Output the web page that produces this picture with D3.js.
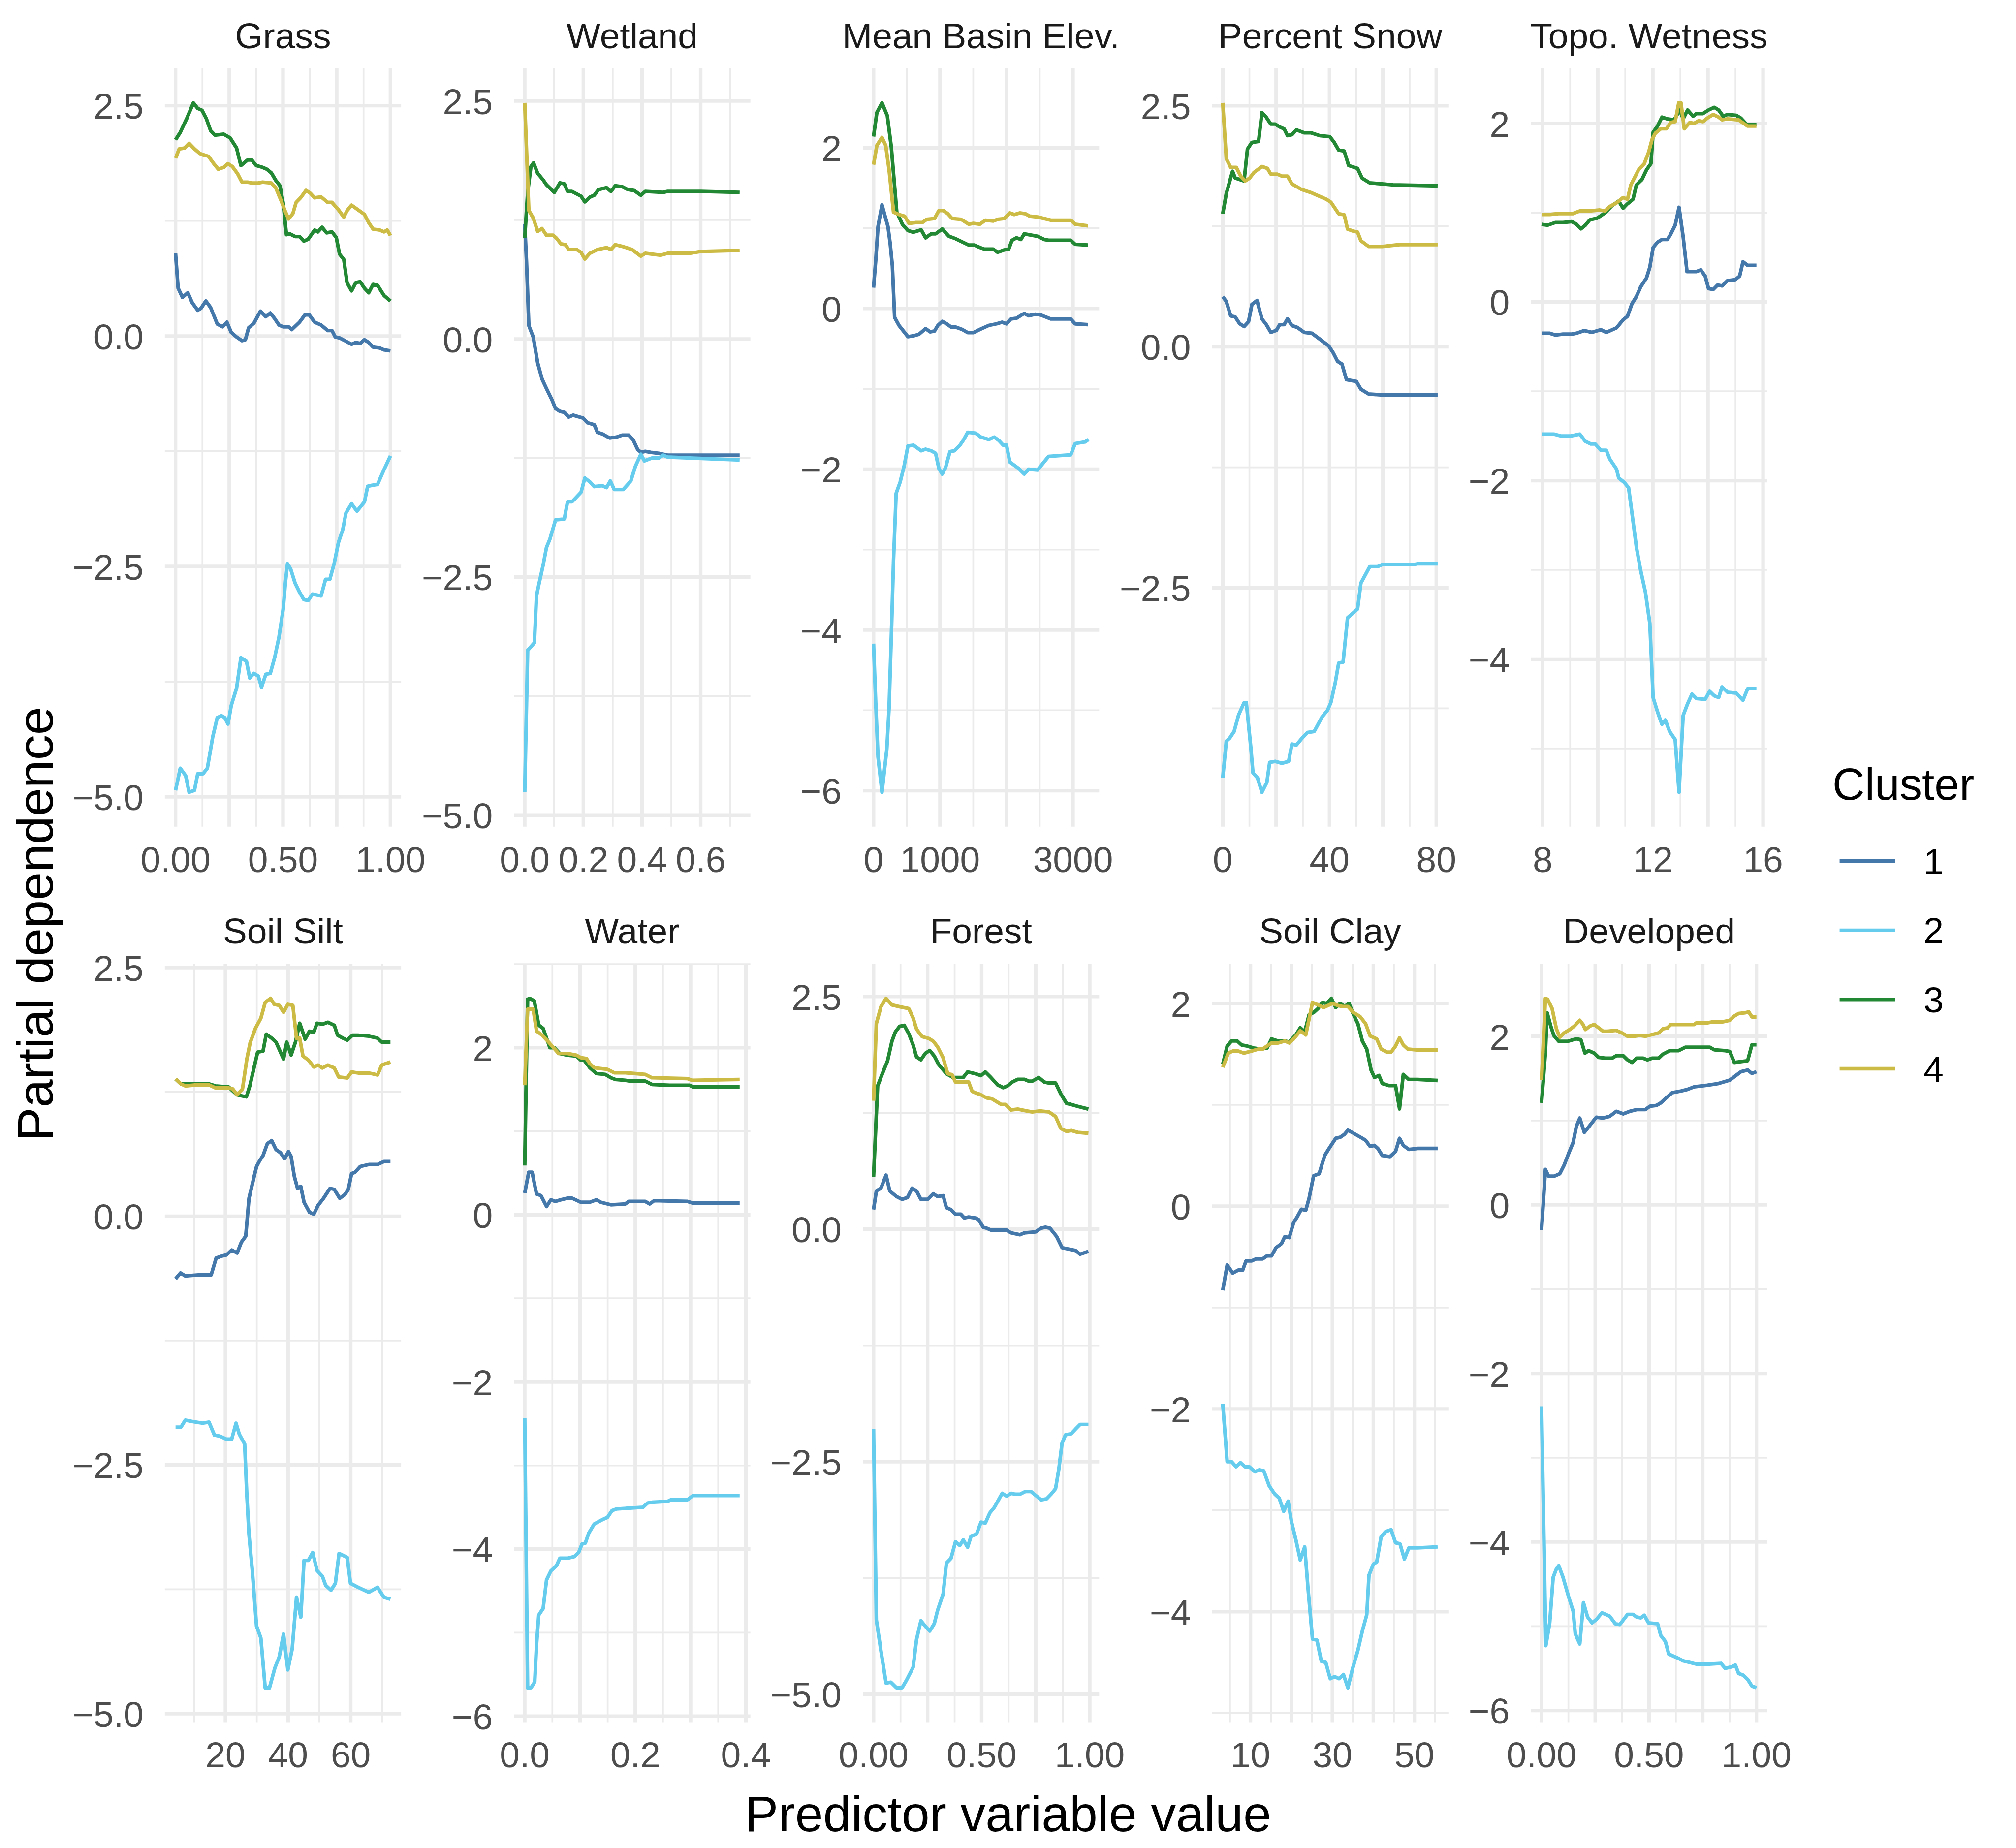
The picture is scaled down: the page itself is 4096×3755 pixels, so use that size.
<!DOCTYPE html>
<html><head><meta charset="utf-8">
<script src="https://cdn.jsdelivr.net/npm/d3@7"></script>
<style>html,body{margin:0;padding:0;background:#fff;} svg{display:block;}</style>
</head><body>
<script>
// ---------------- DATA ----------------
const clusterNames = ["1","2","3","4"];
const clusterColors = ["#4477AA","#66CCEE","#228833","#CCBB44"];
const panelTitles = ["Grass","Wetland","Mean Basin Elev.","Percent Snow","Topo. Wetness","Soil Silt","Water","Forest","Soil Clay","Developed"];

// Grass
const grass_1 = [[0,.90],[.012,.52],[.032,.42],[.057,.47],[.078,.36],[.103,.28],[.118,.30],[.141,.38],[.163,.31],[.194,.13],[.219,.10],[.239,.15],[.259,.04],[.284,-.01],[.309,-.05],[.325,-.04],[.340,.09],[.365,.14],[.395,.27],[.420,.21],[.441,.25],[.461,.19],[.481,.12],[.501,.10],[.526,.10],[.541,.07],[.577,.15],[.602,.23],[.622,.23],[.647,.15],[.677,.12],[.708,.06],[.728,.06],[.743,-.01],[.763,-.02],[.788,-.05],[.819,-.09],[.839,-.07],[.859,-.08],[.879,-.04],[.899,-.07],[.919,-.12],[.950,-.13],[.970,-.15],[1,-.16]];
const grass_2 = [[0,-4.93],[.022,-4.69],[.047,-4.77],[.063,-4.95],[.088,-4.93],[.103,-4.75],[.128,-4.75],[.148,-4.69],[.173,-4.35],[.194,-4.14],[.214,-4.12],[.229,-4.14],[.244,-4.21],[.259,-4.01],[.284,-3.82],[.304,-3.49],[.330,-3.53],[.345,-3.71],[.365,-3.66],[.385,-3.69],[.400,-3.81],[.420,-3.67],[.441,-3.66],[.461,-3.49],[.481,-3.27],[.501,-2.96],[.511,-2.68],[.521,-2.47],[.536,-2.53],[.556,-2.68],[.577,-2.78],[.597,-2.86],[.617,-2.87],[.637,-2.80],[.677,-2.82],[.698,-2.64],[.718,-2.64],[.738,-2.47],[.758,-2.24],[.778,-2.10],[.793,-1.92],[.819,-1.82],[.844,-1.90],[.879,-1.80],[.894,-1.63],[.914,-1.62],[.940,-1.61],[.970,-1.45],[1,-1.30]];
const grass_3 = [[0,2.13],[.022,2.21],[.052,2.36],[.083,2.53],[.103,2.47],[.123,2.45],[.143,2.36],[.163,2.23],[.183,2.18],[.224,2.19],[.254,2.15],[.284,2.04],[.304,1.85],[.335,1.91],[.355,1.91],[.375,1.85],[.405,1.83],[.425,1.81],[.446,1.77],[.466,1.69],[.486,1.63],[.501,1.44],[.516,1.10],[.531,1.11],[.556,1.08],[.577,1.08],[.597,1.03],[.617,1.05],[.647,1.15],[.662,1.13],[.682,1.18],[.703,1.12],[.728,1.13],[.748,1.07],[.763,.89],[.783,.83],[.798,.58],[.819,.49],[.839,.58],[.859,.59],[.879,.52],[.899,.47],[.919,.56],[.940,.55],[.970,.44],[1,.38]];
const grass_4 = [[0,1.93],[.017,2.03],[.042,2.04],[.063,2.09],[.088,2.03],[.113,1.98],[.153,1.95],[.178,1.87],[.199,1.81],[.224,1.83],[.244,1.87],[.264,1.84],[.289,1.76],[.309,1.67],[.335,1.67],[.355,1.66],[.385,1.66],[.405,1.67],[.446,1.66],[.466,1.61],[.491,1.47],[.511,1.35],[.526,1.27],[.546,1.33],[.561,1.45],[.582,1.50],[.607,1.58],[.627,1.55],[.647,1.50],[.677,1.51],[.708,1.45],[.728,1.45],[.758,1.37],[.783,1.29],[.798,1.36],[.819,1.42],[.849,1.37],[.879,1.32],[.899,1.23],[.919,1.16],[.950,1.15],[.970,1.13],[.985,1.15],[1,1.09]];

// Wetland
const wetland_1 = [[0,1.21],[.006,.82],[.014,.14],[.029,.02],[.044,-.25],[.059,-.42],[.074,-.52],[.093,-.64],[.105,-.73],[.120,-.76],[.135,-.77],[.150,-.82],[.165,-.80],[.199,-.83],[.214,-.88],[.237,-.90],[.248,-.98],[.267,-1.00],[.290,-1.04],[.313,-1.03],[.332,-1.01],[.355,-1.01],[.370,-1.06],[.385,-1.16],[.396,-1.19],[.411,-1.18],[.430,-1.19],[.457,-1.20],[.487,-1.22],[.601,-1.22],[.733,-1.22]];
const wetland_2 = [[0,-4.76],[.010,-3.27],[.033,-3.19],[.040,-2.70],[.048,-2.58],[.063,-2.37],[.074,-2.19],[.086,-2.10],[.105,-1.90],[.135,-1.89],[.146,-1.71],[.161,-1.71],[.192,-1.61],[.205,-1.46],[.222,-1.50],[.237,-1.55],[.264,-1.54],[.279,-1.56],[.292,-1.49],[.305,-1.58],[.336,-1.58],[.362,-1.49],[.377,-1.34],[.396,-1.21],[.408,-1.28],[.434,-1.25],[.457,-1.25],[.472,-1.22],[.487,-1.24],[.563,-1.25],[.733,-1.27]];
const wetland_3 = [[0,1.06],[.010,1.54],[.021,1.81],[.030,1.85],[.044,1.74],[.063,1.67],[.074,1.62],[.101,1.54],[.120,1.64],[.135,1.63],[.146,1.55],[.161,1.55],[.192,1.50],[.205,1.44],[.222,1.49],[.237,1.51],[.252,1.57],[.279,1.59],[.294,1.55],[.309,1.61],[.332,1.60],[.351,1.57],[.373,1.56],[.396,1.51],[.411,1.55],[.472,1.54],[.487,1.55],[.601,1.55],[.733,1.54]];
const wetland_4 = [[0,2.48],[.014,1.35],[.029,1.27],[.044,1.13],[.059,1.16],[.074,1.09],[.097,1.09],[.108,1.06],[.123,1.00],[.139,.99],[.150,.94],[.177,.94],[.192,.91],[.205,.84],[.222,.90],[.248,.94],[.279,.96],[.294,.94],[.309,.99],[.336,.97],[.366,.94],[.396,.87],[.411,.90],[.464,.88],[.487,.90],[.563,.90],[.601,.92],[.733,.93]];

// Mean Basin Elev.
const elev_1 = [[0,.26],[33,.60],[67,1.02],[127,1.29],[217,1.02],[250,.81],[283,.53],[317,-.11],[383,-.21],[517,-.35],[600,-.34],[683,-.32],[783,-.25],[850,-.29],[917,-.28],[967,-.21],[1033,-.16],[1100,-.19],[1167,-.23],[1233,-.23],[1333,-.26],[1417,-.30],[1500,-.30],[1600,-.26],[1733,-.21],[1850,-.19],[1933,-.17],[2000,-.19],[2067,-.13],[2150,-.12],[2267,-.06],[2333,-.09],[2433,-.07],[2517,-.08],[2667,-.13],[2967,-.13],[3033,-.19],[3227,-.20]];
const elev_2 = [[0,-4.17],[33,-4.91],[67,-5.58],[127,-6.02],[200,-5.48],[233,-4.98],[273,-3.92],[300,-3.14],[340,-2.30],[400,-2.16],[460,-1.96],[517,-1.71],[600,-1.70],[717,-1.77],[783,-1.75],[867,-1.77],[933,-1.80],[983,-1.99],[1033,-2.06],[1083,-1.98],[1150,-1.78],[1217,-1.77],[1300,-1.70],[1350,-1.64],[1417,-1.54],[1533,-1.55],[1617,-1.60],[1733,-1.63],[1817,-1.60],[1883,-1.64],[1950,-1.70],[2000,-1.70],[2050,-1.91],[2183,-1.99],[2267,-2.06],[2333,-2.00],[2467,-2.01],[2633,-1.84],[2967,-1.82],[3033,-1.68],[3183,-1.66],[3233,-1.63]];
const elev_3 = [[0,2.14],[50,2.44],[127,2.56],[207,2.40],[267,2.01],[317,1.52],[350,1.20],[433,1.05],[517,.97],[600,.95],[717,.98],[783,.88],[867,.93],[933,.93],[1033,.99],[1133,.90],[1233,.87],[1433,.79],[1517,.79],[1600,.76],[1667,.74],[1800,.74],[1867,.70],[1967,.73],[2033,.74],[2083,.85],[2150,.88],[2217,.86],[2267,.93],[2467,.90],[2567,.86],[2633,.85],[2967,.85],[3033,.80],[3227,.79]];
const elev_4 = [[0,1.79],[50,2.03],[127,2.13],[183,2.03],[233,1.73],[300,1.20],[383,1.17],[467,1.15],[533,1.06],[633,1.07],[733,1.07],[800,1.11],[917,1.12],[983,1.22],[1050,1.22],[1117,1.18],[1183,1.12],[1317,1.11],[1433,1.05],[1500,1.06],[1600,1.05],[1683,1.10],[1800,1.09],[1867,1.11],[1967,1.12],[2050,1.19],[2117,1.17],[2200,1.19],[2283,1.18],[2350,1.15],[2467,1.14],[2567,1.12],[2667,1.10],[2967,1.10],[3033,1.05],[3227,1.03]];

// Percent Snow
const snow_1 = [[0,.52],[1.33,.47],[3,.32],[4.67,.31],[6.33,.24],[8,.21],[9.67,.26],[10.92,.44],[12.83,.48],[14.67,.29],[16.33,.23],[18,.15],[20.08,.17],[21.33,.23],[23,.23],[24.25,.29],[25.92,.22],[28,.20],[30.5,.15],[33.42,.14],[36.33,.08],[39.67,.01],[41.33,-.06],[43,-.15],[44.67,-.18],[46.33,-.34],[50.08,-.36],[51.75,-.44],[54.67,-.49],[59.67,-.50],[80.5,-.50]];
const snow_2 = [[0,-4.47],[1.33,-4.09],[2.58,-4.06],[4.25,-3.99],[5.92,-3.82],[8,-3.69],[8.83,-3.69],[10.5,-4.15],[11.33,-4.42],[13,-4.47],[14.67,-4.62],[16.5,-4.52],[17.58,-4.31],[19.67,-4.30],[22.17,-4.32],[24.67,-4.30],[25.92,-4.12],[27.58,-4.13],[29.67,-4.06],[31.75,-4.00],[34.25,-3.99],[37.17,-3.84],[39.25,-3.77],[40.5,-3.69],[42.17,-3.48],[43.42,-3.28],[45.08,-3.27],[46.75,-2.81],[49.25,-2.75],[50.5,-2.72],[51.75,-2.45],[55.08,-2.28],[58,-2.28],[59.67,-2.26],[71.33,-2.26],[73,-2.25],[80.5,-2.25]];
const snow_3 = [[0,1.38],[1.33,1.59],[3.67,1.82],[4.67,1.75],[8,1.72],[9.25,2.05],[10.92,2.12],[13.42,2.13],[14.67,2.43],[16.33,2.38],[18,2.31],[19.67,2.31],[21.33,2.28],[23,2.26],[24.25,2.19],[25.92,2.20],[27.58,2.25],[30.5,2.22],[33,2.22],[36.33,2.19],[40.08,2.18],[41.75,2.12],[43.42,2.04],[45.5,2.03],[47.17,1.88],[50.5,1.85],[52.17,1.75],[55.08,1.70],[59.67,1.69],[63.83,1.68],[80.5,1.67]];
const snow_4 = [[0,2.53],[1.33,1.95],[3,1.86],[5.08,1.86],[6.75,1.77],[8.42,1.72],[10.08,1.75],[11.75,1.81],[14.67,1.87],[16.75,1.85],[18,1.79],[20.5,1.79],[22.17,1.77],[24.25,1.77],[25.92,1.69],[29.67,1.63],[33,1.60],[36.33,1.56],[38.83,1.53],[40.5,1.50],[43.42,1.38],[45.5,1.37],[46.75,1.22],[48.83,1.20],[50.5,1.19],[51.75,1.10],[54.67,1.04],[59.67,1.04],[66.33,1.06],[80.5,1.06]];

// Topo. Wetness
const topo_1 = [[7.96,-.35],[8.26,-.35],[8.46,-.37],[8.74,-.36],[9.06,-.36],[9.23,-.35],[9.51,-.32],[9.79,-.34],[10.11,-.31],[10.31,-.34],[10.68,-.29],[10.92,-.20],[11.08,-.16],[11.24,-.02],[11.40,.06],[11.56,.17],[11.77,.27],[11.89,.39],[12.01,.61],[12.17,.67],[12.33,.70],[12.53,.70],[12.65,.76],[12.81,.86],[12.95,1.06],[13.10,.73],[13.24,.34],[13.58,.34],[13.74,.36],[13.90,.29],[14.02,.15],[14.19,.14],[14.35,.19],[14.51,.18],[14.71,.24],[14.99,.25],[15.15,.29],[15.27,.45],[15.44,.41],[15.76,.41]];
const topo_2 = [[7.96,-1.48],[8.42,-1.48],[8.66,-1.50],[9.02,-1.50],[9.35,-1.48],[9.55,-1.56],[9.75,-1.59],[9.91,-1.59],[10.11,-1.66],[10.31,-1.66],[10.44,-1.76],[10.68,-1.87],[10.76,-1.97],[10.96,-2.02],[11.12,-2.08],[11.24,-2.36],[11.40,-2.74],[11.56,-3.01],[11.73,-3.25],[11.89,-3.60],[12.01,-4.43],[12.17,-4.59],[12.33,-4.73],[12.45,-4.68],[12.61,-4.81],[12.81,-4.90],[12.95,-5.49],[13.10,-4.63],[13.26,-4.50],[13.42,-4.39],[13.58,-4.44],[13.90,-4.45],[14.06,-4.36],[14.23,-4.41],[14.39,-4.43],[14.51,-4.31],[14.71,-4.37],[15.03,-4.38],[15.27,-4.46],[15.44,-4.33],[15.76,-4.33]];
const topo_3 = [[7.96,.87],[8.18,.86],[8.46,.89],[8.74,.89],[9.06,.90],[9.23,.87],[9.39,.82],[9.55,.86],[9.71,.92],[9.99,.94],[10.27,1.00],[10.52,1.08],[10.76,1.13],[10.92,1.05],[11.08,1.10],[11.28,1.15],[11.40,1.31],[11.60,1.37],[11.77,1.48],[11.93,1.55],[12.01,1.90],[12.17,1.97],[12.33,2.07],[12.53,2.05],[12.77,2.04],[12.98,2.15],[13.10,2.05],[13.26,2.15],[13.46,2.08],[13.58,2.11],[13.82,2.11],[14.02,2.15],[14.23,2.18],[14.39,2.15],[14.55,2.08],[14.71,2.10],[15.03,2.09],[15.19,2.06],[15.40,1.99],[15.76,1.99]];
const topo_4 = [[7.96,.98],[8.26,.98],[8.58,.99],[9.10,.99],[9.35,1.02],[9.71,1.02],[10.07,1.03],[10.27,1.02],[10.44,1.07],[10.68,1.11],[10.92,1.17],[11.08,1.15],[11.20,1.31],[11.48,1.48],[11.69,1.55],[11.85,1.68],[11.97,1.82],[12.09,1.89],[12.29,1.94],[12.49,1.94],[12.65,2.01],[12.81,2.02],[12.94,2.23],[13.02,2.23],[13.14,1.94],[13.34,2.01],[13.50,2.00],[13.66,2.03],[13.82,2.02],[13.98,2.06],[14.19,2.10],[14.39,2.07],[14.51,2.04],[14.71,2.05],[15.11,2.04],[15.44,1.97],[15.76,1.97]];

// Soil Silt
const silt_1 = [[4.07,-.63],[5.66,-.57],[7.17,-.60],[11.31,-.59],[15.45,-.59],[17.03,-.42],[18.90,-.40],[20.28,-.39],[22.0,-.34],[23.72,-.37],[25.10,-.26],[26.48,-.20],[27.52,.18],[28.41,.30],[29.93,.50],[30.97,.56],[32.0,.61],[33.38,.73],[34.76,.76],[36.14,.67],[37.52,.64],[38.90,.58],[40.14,.65],[40.97,.60],[42.0,.40],[43.03,.28],[44.07,.30],[45.10,.14],[46.83,.04],[48.21,.02],[49.59,.11],[51.31,.18],[53.38,.28],[54.76,.27],[56.48,.18],[58.21,.22],[59.24,.27],[60.28,.43],[61.31,.44],[63.03,.50],[65.79,.52],[68.55,.52],[70.62,.55],[72.69,.55]];
const silt_2 = [[4.07,-2.12],[5.79,-2.12],[7.17,-2.05],[10.62,-2.07],[12.69,-2.08],[14.76,-2.07],[16.48,-2.20],[18.21,-2.21],[20.28,-2.24],[22.0,-2.24],[23.38,-2.08],[24.41,-2.19],[26.14,-2.29],[26.83,-2.80],[27.52,-3.20],[28.55,-3.55],[29.93,-4.12],[31.31,-4.24],[32.69,-4.74],[34.07,-4.74],[35.79,-4.54],[37.17,-4.43],[38.55,-4.20],[39.93,-4.56],[41.31,-4.35],[42.69,-3.83],[44.07,-4.03],[45.10,-3.46],[46.48,-3.46],[47.86,-3.38],[49.24,-3.56],[50.97,-3.62],[52.0,-3.71],[53.72,-3.76],[55.10,-3.69],[56.28,-3.39],[58.90,-3.43],[59.93,-3.69],[62.34,-3.73],[65.79,-3.78],[68.55,-3.73],[70.62,-3.83],[72.69,-3.85]];
const silt_3 = [[4.07,1.38],[5.79,1.33],[10.62,1.33],[14.76,1.33],[16.83,1.31],[20.97,1.30],[23.72,1.22],[26.69,1.20],[27.86,1.32],[30.28,1.65],[32.0,1.66],[33.03,1.83],[34.76,1.79],[36.14,1.75],[38.55,1.58],[39.59,1.75],[40.97,1.62],[42.34,1.75],[43.72,1.94],[45.45,1.78],[46.83,1.86],[48.21,1.85],[49.24,1.94],[50.97,1.93],[52.69,1.95],[54.76,1.92],[55.79,1.82],[57.52,1.79],[58.90,1.77],[60.62,1.82],[62.34,1.82],[65.79,1.81],[68.55,1.79],[69.93,1.75],[72.69,1.75]];
const silt_4 = [[4.07,1.38],[5.79,1.33],[7.17,1.31],[10.62,1.32],[14.76,1.32],[16.83,1.29],[20.97,1.29],[22.34,1.28],[23.72,1.22],[25.45,1.28],[26.83,1.58],[27.86,1.74],[29.59,1.89],[31.31,1.99],[32.69,2.15],[34.41,2.19],[35.59,2.13],[37.17,2.12],[38.55,2.05],[39.93,2.13],[41.52,2.12],[42.69,1.79],[43.72,1.79],[44.76,1.61],[46.48,1.57],[48.21,1.50],[49.59,1.52],[50.97,1.49],[52.69,1.52],[54.76,1.49],[56.14,1.40],[58.90,1.39],[60.28,1.45],[62.34,1.44],[65.79,1.44],[68.55,1.42],[69.93,1.52],[72.69,1.55]];

// Water
const water_1 = [[0,.26],[.0072,.51],[.0133,.51],[.0213,.25],[.0293,.23],[.0394,.10],[.0474,.18],[.0554,.16],[.0655,.18],[.0775,.20],[.0855,.20],[.1016,.15],[.1177,.15],[.1297,.18],[.1378,.15],[.1558,.12],[.1819,.13],[.1880,.16],[.2181,.16],[.2261,.13],[.2341,.17],[.2944,.16],[.3044,.14],[.3888,.14]];
const water_2 = [[0,-2.43],[.0052,-5.66],[.0112,-5.66],[.0181,-5.59],[.0213,-5.15],[.0253,-4.79],[.0333,-4.71],[.0394,-4.37],[.0474,-4.26],[.0574,-4.20],[.0635,-4.11],[.0775,-4.11],[.0896,-4.09],[.0976,-4.04],[.1036,-3.94],[.1096,-3.93],[.1157,-3.81],[.1257,-3.70],[.1398,-3.65],[.1498,-3.62],[.1578,-3.54],[.1659,-3.52],[.2141,-3.50],[.2221,-3.45],[.2301,-3.44],[.2582,-3.43],[.2643,-3.41],[.2944,-3.41],[.3044,-3.36],[.3888,-3.36]];
const water_3 = [[0,.59],[.0052,2.58],[.0092,2.59],[.0173,2.56],[.0253,2.27],[.0333,2.23],[.0454,2.00],[.0534,2.00],[.0635,1.93],[.0775,1.91],[.0936,1.90],[.1016,1.85],[.1076,1.85],[.1177,1.76],[.1297,1.69],[.1458,1.68],[.1558,1.64],[.1639,1.62],[.1819,1.61],[.1900,1.60],[.2181,1.60],[.2301,1.56],[.2622,1.55],[.2984,1.55],[.3044,1.53],[.3888,1.53]];
const water_4 = [[0,1.55],[.0052,2.46],[.0153,2.46],[.0213,2.20],[.0313,2.15],[.0454,2.05],[.0614,1.93],[.0775,1.93],[.0936,1.91],[.1016,1.88],[.1116,1.87],[.1177,1.81],[.1257,1.76],[.1498,1.74],[.1618,1.70],[.1819,1.70],[.2181,1.68],[.2301,1.64],[.2944,1.63],[.3024,1.61],[.3888,1.62]];

// Forest
const forest_1 = [[0,.21],[.013,.41],[.034,.44],[.058,.58],[.075,.41],[.106,.35],[.132,.32],[.157,.34],[.178,.44],[.199,.41],[.219,.32],[.250,.32],[.276,.38],[.296,.35],[.322,.36],[.337,.23],[.358,.21],[.379,.16],[.404,.16],[.420,.12],[.440,.13],[.471,.12],[.487,.10],[.507,.02],[.523,.01],[.543,-.01],[.579,-.01],[.615,-.01],[.636,-.04],[.677,-.06],[.698,-.04],[.749,-.03],[.775,.01],[.795,.02],[.816,.01],[.847,-.08],[.872,-.20],[.914,-.22],[.934,-.23],[.955,-.27],[.994,-.24]];
const forest_2 = [[0,-2.15],[.013,-4.20],[.034,-4.53],[.058,-4.88],[.080,-4.87],[.106,-4.93],[.132,-4.93],[.152,-4.85],[.183,-4.71],[.199,-4.41],[.219,-4.21],[.240,-4.27],[.260,-4.32],[.281,-4.24],[.296,-4.10],[.322,-3.92],[.337,-3.59],[.358,-3.54],[.379,-3.36],[.399,-3.40],[.415,-3.34],[.435,-3.42],[.451,-3.30],[.476,-3.28],[.497,-3.15],[.517,-3.16],[.538,-3.05],[.559,-2.99],[.595,-2.84],[.615,-2.87],[.636,-2.84],[.656,-2.85],[.677,-2.85],[.703,-2.82],[.728,-2.82],[.754,-2.87],[.775,-2.91],[.800,-2.90],[.821,-2.85],[.842,-2.79],[.857,-2.58],[.872,-2.30],[.888,-2.21],[.914,-2.20],[.934,-2.15],[.955,-2.10],[.994,-2.10]];
const forest_3 = [[0,.56],[.019,1.54],[.039,1.66],[.065,1.81],[.085,2.02],[.101,2.12],[.121,2.18],[.142,2.19],[.163,2.10],[.183,1.98],[.199,1.85],[.219,1.82],[.240,1.89],[.260,1.92],[.281,1.86],[.301,1.77],[.337,1.67],[.368,1.63],[.399,1.63],[.415,1.63],[.435,1.69],[.471,1.67],[.497,1.65],[.517,1.69],[.543,1.63],[.574,1.55],[.600,1.52],[.620,1.54],[.641,1.58],[.667,1.61],[.698,1.61],[.718,1.59],[.734,1.59],[.764,1.63],[.790,1.58],[.811,1.57],[.842,1.57],[.867,1.45],[.893,1.35],[.914,1.34],[.944,1.32],[.994,1.29]];
const forest_4 = [[0,1.38],[.013,2.21],[.034,2.39],[.058,2.48],[.085,2.41],[.121,2.39],[.163,2.37],[.183,2.27],[.199,2.15],[.224,2.07],[.255,2.05],[.276,2.02],[.296,1.96],[.322,1.84],[.343,1.67],[.363,1.66],[.379,1.58],[.415,1.58],[.440,1.58],[.456,1.48],[.476,1.46],[.492,1.45],[.523,1.41],[.548,1.40],[.590,1.34],[.610,1.34],[.636,1.28],[.667,1.29],[.708,1.27],[.734,1.26],[.770,1.27],[.811,1.26],[.842,1.21],[.867,1.08],[.893,1.05],[.914,1.06],[.944,1.04],[.994,1.03]];

// Soil Clay
const clay_1 = [[3.24,-.83],[4.32,-.58],[5.68,-.66],[7.03,-.63],[8.11,-.63],[8.92,-.54],[10.27,-.54],[11.35,-.52],[12.97,-.52],[14.05,-.49],[15.14,-.49],[16.22,-.41],[17.57,-.37],[18.38,-.30],[19.46,-.31],[20.54,-.16],[21.35,-.11],[22.43,-.03],[23.51,-.04],[24.32,.08],[25.41,.30],[26.76,.32],[28.11,.50],[29.19,.57],[30.81,.67],[31.89,.68],[32.97,.71],[33.78,.75],[35.14,.72],[37.30,.67],[38.11,.65],[39.19,.59],[40.27,.60],[41.08,.57],[42.16,.50],[44.05,.49],[45.41,.54],[46.38,.67],[47.30,.60],[48.65,.56],[50.81,.57],[55.68,.57]];
const clay_2 = [[3.24,-1.95],[4.32,-2.52],[5.41,-2.52],[6.49,-2.57],[7.57,-2.53],[8.65,-2.57],[9.73,-2.57],[11.08,-2.62],[12.16,-2.60],[13.24,-2.61],[14.59,-2.76],[15.95,-2.84],[17.03,-2.88],[18.11,-3.01],[19.19,-2.91],[20.0,-3.11],[21.08,-3.29],[22.16,-3.49],[23.24,-3.36],[24.05,-3.77],[25.14,-4.27],[26.22,-4.28],[27.30,-4.49],[28.38,-4.50],[29.46,-4.66],[30.54,-4.64],[31.62,-4.66],[32.70,-4.62],[33.78,-4.75],[34.86,-4.57],[36.22,-4.38],[37.30,-4.19],[38.38,-4.03],[38.92,-3.64],[40.0,-3.53],[40.81,-3.51],[41.89,-3.26],[42.97,-3.21],[44.32,-3.19],[45.41,-3.32],[46.49,-3.33],[47.57,-3.48],[48.65,-3.37],[50.81,-3.37],[55.68,-3.36]];
const clay_3 = [[3.24,1.40],[4.32,1.58],[5.41,1.63],[6.76,1.63],[7.84,1.59],[9.19,1.58],[10.81,1.56],[12.43,1.55],[14.05,1.56],[15.14,1.65],[16.76,1.63],[18.38,1.63],[19.46,1.62],[21.08,1.69],[22.16,1.76],[23.24,1.72],[24.32,1.89],[25.41,1.91],[26.49,1.95],[27.57,2.01],[28.65,2.00],[29.73,2.05],[30.81,1.96],[31.89,2.00],[32.97,1.97],[34.05,2.00],[35.14,1.89],[36.22,1.80],[37.30,1.63],[38.38,1.55],[39.46,1.34],[40.27,1.27],[41.35,1.29],[42.16,1.21],[43.78,1.19],[45.41,1.19],[46.38,.96],[47.30,1.30],[48.65,1.25],[50.81,1.25],[55.68,1.24]];
const clay_4 = [[3.24,1.37],[4.59,1.51],[5.68,1.53],[7.03,1.53],[8.38,1.51],[10.27,1.53],[11.89,1.55],[12.97,1.55],[15.14,1.61],[16.76,1.61],[18.38,1.63],[19.46,1.61],[20.54,1.65],[22.16,1.73],[23.51,1.69],[25.14,2.01],[26.22,1.99],[27.84,1.96],[28.92,1.98],[30.0,2.00],[31.35,1.98],[32.43,1.97],[33.78,1.97],[35.14,1.91],[36.76,1.87],[38.11,1.80],[39.19,1.68],[40.81,1.65],[41.89,1.55],[43.24,1.52],[44.32,1.52],[45.41,1.58],[46.38,1.66],[47.30,1.59],[48.38,1.55],[50.81,1.54],[55.68,1.54]];

// Developed
const dev_1 = [[0,-.30],[.018,.42],[.033,.34],[.059,.34],[.085,.37],[.105,.47],[.126,.61],[.147,.74],[.162,.93],[.178,1.03],[.199,.86],[.224,.94],[.255,1.04],[.286,1.03],[.317,1.05],[.348,1.11],[.380,1.08],[.411,1.11],[.442,1.13],[.483,1.13],[.504,1.17],[.535,1.18],[.555,1.21],[.576,1.26],[.607,1.33],[.648,1.35],[.679,1.37],[.710,1.40],[.772,1.42],[.824,1.44],[.876,1.48],[.907,1.54],[.928,1.58],[.959,1.60],[.979,1.56],[1,1.58]];
const dev_2 = [[0,-2.39],[.007,-3.37],[.020,-5.23],[.038,-4.96],[.054,-4.42],[.069,-4.32],[.080,-4.28],[.100,-4.42],[.126,-4.65],[.147,-4.82],[.157,-5.09],[.178,-5.21],[.195,-4.72],[.214,-4.89],[.235,-4.96],[.255,-4.92],[.281,-4.84],[.317,-4.88],[.343,-4.97],[.364,-4.98],[.400,-4.86],[.426,-4.86],[.442,-4.89],[.462,-4.90],[.478,-4.87],[.498,-4.96],[.540,-4.97],[.555,-5.11],[.576,-5.18],[.592,-5.33],[.628,-5.37],[.659,-5.41],[.690,-5.43],[.721,-5.45],[.772,-5.45],[.835,-5.44],[.855,-5.50],[.886,-5.48],[.902,-5.46],[.917,-5.56],[.938,-5.58],[.959,-5.63],[.979,-5.71],[1,-5.73]];
const dev_3 = [[0,1.21],[.018,1.81],[.026,2.28],[.043,2.12],[.057,2.01],[.080,1.94],[.121,1.94],[.162,1.97],[.183,1.96],[.202,1.80],[.219,1.83],[.245,1.80],[.266,1.75],[.297,1.74],[.328,1.74],[.348,1.77],[.380,1.77],[.400,1.72],[.421,1.69],[.442,1.74],[.473,1.74],[.493,1.72],[.514,1.74],[.545,1.74],[.566,1.79],[.597,1.83],[.638,1.83],[.669,1.87],[.721,1.87],[.783,1.87],[.804,1.84],[.855,1.83],[.876,1.82],[.897,1.69],[.928,1.70],[.959,1.71],[.979,1.90],[1,1.90]];
const dev_4 = [[0,1.48],[.018,2.45],[.028,2.44],[.049,2.33],[.069,2.09],[.085,1.99],[.105,2.04],[.131,2.08],[.152,2.12],[.178,2.19],[.193,2.14],[.204,2.08],[.224,2.12],[.245,2.14],[.266,2.10],[.286,2.06],[.307,2.06],[.348,2.07],[.374,2.04],[.400,2.00],[.431,2.00],[.457,2.01],[.483,2.00],[.514,2.02],[.545,2.04],[.566,2.09],[.586,2.10],[.602,2.14],[.669,2.14],[.710,2.14],[.721,2.16],[.772,2.16],[.793,2.17],[.840,2.17],[.876,2.19],[.897,2.24],[.917,2.27],[.948,2.28],[.964,2.29],[.979,2.23],[1,2.23]];

// Tick breaks and labels
const xBreaks_unit = [0,0.25,0.5,0.75,1];        const xLabels_unit = ["0.00","","0.50","","1.00"];
const xBreaks_wetland = [0,0.2,0.4,0.6];          const xLabels_wetland = ["0.0","0.2","0.4","0.6"];
const xBreaks_elev = [0,1000,2000,3000];          const xLabels_elev = ["0","1000","","3000"];
const xBreaks_snow = [0,20,40,60,80];             const xLabels_snow = ["0","","40","","80"];
const xBreaks_topo = [8,10,12,14,16];             const xLabels_topo = ["8","","12","","16"];
const xBreaks_silt = [20,40,60];                  const xLabels_silt = ["20","40","60"];
const xBreaks_water = [0,0.1,0.2,0.3,0.4];        const xLabels_water = ["0.0","","0.2","","0.4"];
const xBreaks_clay = [10,20,30,40,50];            const xLabels_clay = ["10","","30","","50"];

const yBreaks_half = [2.5,0,-2.5,-5];             const yLabels_half = ["2.5","0.0","\u22122.5","\u22125.0"];
const yBreaks_snow = [2.5,0,-2.5];                const yLabels_snow = ["2.5","0.0","\u22122.5"];
const yBreaks_int4 = [2,0,-2,-4];                 const yLabels_int4 = ["2","0","\u22122","\u22124"];
const yBreaks_int6 = [2,0,-2,-4,-6];              const yLabels_int6 = ["2","0","\u22122","\u22124","\u22126"];

const axisTitleX = "Predictor variable value";
const axisTitleY = "Partial dependence";
const legendTitle = "Cluster";

// ---------------- TABLE ----------------
const panels = [
  {series:[grass_1,grass_2,grass_3,grass_4], xb:xBreaks_unit, xl:xLabels_unit, yb:yBreaks_half, yl:yLabels_half},
  {series:[wetland_1,wetland_2,wetland_3,wetland_4], xb:xBreaks_wetland, xl:xLabels_wetland, yb:yBreaks_half, yl:yLabels_half},
  {series:[elev_1,elev_2,elev_3,elev_4], xb:xBreaks_elev, xl:xLabels_elev, yb:yBreaks_int6, yl:yLabels_int6},
  {series:[snow_1,snow_2,snow_3,snow_4], xb:xBreaks_snow, xl:xLabels_snow, yb:yBreaks_snow, yl:yLabels_snow},
  {series:[topo_1,topo_2,topo_3,topo_4], xb:xBreaks_topo, xl:xLabels_topo, yb:yBreaks_int4, yl:yLabels_int4},
  {series:[silt_1,silt_2,silt_3,silt_4], xb:xBreaks_silt, xl:xLabels_silt, yb:yBreaks_half, yl:yLabels_half},
  {series:[water_1,water_2,water_3,water_4], xb:xBreaks_water, xl:xLabels_water, yb:yBreaks_int6, yl:yLabels_int6},
  {series:[forest_1,forest_2,forest_3,forest_4], xb:xBreaks_unit, xl:xLabels_unit, yb:yBreaks_half, yl:yLabels_half},
  {series:[clay_1,clay_2,clay_3,clay_4], xb:xBreaks_clay, xl:xLabels_clay, yb:yBreaks_int4, yl:yLabels_int4},
  {series:[dev_1,dev_2,dev_3,dev_4], xb:xBreaks_unit, xl:xLabels_unit, yb:yBreaks_int6, yl:yLabels_int6}
];

// ---------------- LAYOUT (reference pixel space, scaled) ----------------
const REF_W = 5040, REF_H = 4620;
const S = 4096 / REF_W;
const FONT = "'Liberation Sans', Arial, Helvetica, sans-serif";
const colLeft = [412, 1285, 2157, 3030, 3827];
const panelW = 591;
const rowTop = [171, 2410];
const panelH = 1896;
const smallFont = 90, titleFont = 126, legTitleFont = 112;

const svg = d3.select("body").append("svg")
  .attr("width", 4096).attr("height", 3755)
  .style("background", "#fff");
const root = svg.append("g").attr("transform", `scale(${S})`);
root.append("rect").attr("width", REF_W).attr("height", REF_H).attr("fill", "#fff");

function minorBreaks(b, lo, hi) {
  const step = b[1] - b[0];
  const ext = [b[0] - step, ...b, b[b.length - 1] + step];
  const out = [];
  for (let i = 0; i < ext.length - 1; i++) {
    const m = (ext[i] + ext[i + 1]) / 2;
    if (m >= lo && m <= hi) out.push(m);
  }
  return out;
}

const line = d3.line().curve(d3.curveLinear);

panels.forEach((p, i) => {
  const col = i % 5, row = Math.floor(i / 5);
  const x0 = colLeft[col], y0 = rowTop[row];
  const all = p.series.flat();
  const xe = d3.extent(all, d => d[0]);
  const ye = d3.extent(all, d => d[1]);
  const xr = xe[1] - xe[0], yr = ye[1] - ye[0];
  const xDom = [xe[0] - 0.05 * xr, xe[1] + 0.05 * xr];
  const yDom = [ye[0] - 0.05 * yr, ye[1] + 0.05 * yr];
  const x = d3.scaleLinear().domain(xDom).range([x0, x0 + panelW]);
  const y = d3.scaleLinear().domain(yDom).range([y0 + panelH, y0]);

  const g = root.append("g").attr("class", "panel");
  const inX = v => v >= xDom[0] && v <= xDom[1];
  const inY = v => v >= yDom[0] && v <= yDom[1];

  // minor grid
  const xMin = minorBreaks(p.xb, xDom[0], xDom[1]);
  const yMin = minorBreaks(p.yb, yDom[0], yDom[1]);
  g.selectAll(".xminor").data(xMin).join("line")
    .attr("x1", d => x(d)).attr("x2", d => x(d)).attr("y1", y0).attr("y2", y0 + panelH)
    .attr("stroke", "#EBEBEB").attr("stroke-width", 4.5);
  g.selectAll(".yminor").data(yMin).join("line")
    .attr("y1", d => y(d)).attr("y2", d => y(d)).attr("x1", x0).attr("x2", x0 + panelW)
    .attr("stroke", "#EBEBEB").attr("stroke-width", 4.5);
  // major grid
  const xMaj = p.xb.map((v, k) => ({v, l: p.xl[k]})).filter(d => inX(d.v));
  const yMaj = p.yb.map((v, k) => ({v, l: p.yl[k]})).filter(d => inY(d.v));
  g.selectAll(".xmajor").data(xMaj).join("line")
    .attr("x1", d => x(d.v)).attr("x2", d => x(d.v)).attr("y1", y0).attr("y2", y0 + panelH)
    .attr("stroke", "#EBEBEB").attr("stroke-width", 9);
  g.selectAll(".ymajor").data(yMaj).join("line")
    .attr("y1", d => y(d.v)).attr("y2", d => y(d.v)).attr("x1", x0).attr("x2", x0 + panelW)
    .attr("stroke", "#EBEBEB").attr("stroke-width", 9);

  // tick labels
  g.selectAll(".xlab").data(xMaj.filter(d => d.l !== "")).join("text")
    .attr("x", d => x(d.v)).attr("y", y0 + panelH + 113)
    .attr("text-anchor", "middle").attr("font-family", FONT).attr("font-size", smallFont)
    .attr("fill", "#4D4D4D").text(d => d.l);
  g.selectAll(".ylab").data(yMaj).join("text")
    .attr("x", x0 - 53).attr("y", d => y(d.v) + 33)
    .attr("text-anchor", "end").attr("font-family", FONT).attr("font-size", smallFont)
    .attr("fill", "#4D4D4D").text(d => d.l);

  // strip title
  g.append("text").attr("x", x0 + panelW / 2).attr("y", y0 - 51)
    .attr("text-anchor", "middle").attr("font-family", FONT).attr("font-size", smallFont)
    .attr("fill", "#1A1A1A").text(panelTitles[i]);

  // lines
  p.series.forEach((s, k) => {
    g.append("path")
      .attr("d", line.x(d => x(d[0])).y(d => y(d[1]))(s))
      .attr("fill", "none").attr("stroke", clusterColors[k])
      .attr("stroke-width", 9).attr("stroke-linejoin", "round");
  });
});

// axis titles
root.append("text").attr("x", REF_W / 2).attr("y", 4578)
  .attr("text-anchor", "middle").attr("font-family", FONT).attr("font-size", titleFont)
  .attr("fill", "#000").text(axisTitleX);
root.append("text").attr("transform", `translate(132, ${REF_H / 2}) rotate(-90)`)
  .attr("text-anchor", "middle").attr("font-family", FONT).attr("font-size", titleFont)
  .attr("fill", "#000").text(axisTitleY);

// legend
const leg = root.append("g");
leg.append("text").attr("x", 4581).attr("y", 2000)
  .attr("font-family", FONT).attr("font-size", legTitleFont).attr("fill", "#000").text(legendTitle);
clusterNames.forEach((c, k) => {
  const ly = 2153 + k * 173;
  leg.append("line").attr("x1", 4599).attr("x2", 4738).attr("y1", ly).attr("y2", ly)
    .attr("stroke", clusterColors[k]).attr("stroke-width", 9);
  leg.append("text").attr("x", 4809).attr("y", ly + 32)
    .attr("font-family", FONT).attr("font-size", smallFont).attr("fill", "#000").text(c);
});
</script>
</body></html>
